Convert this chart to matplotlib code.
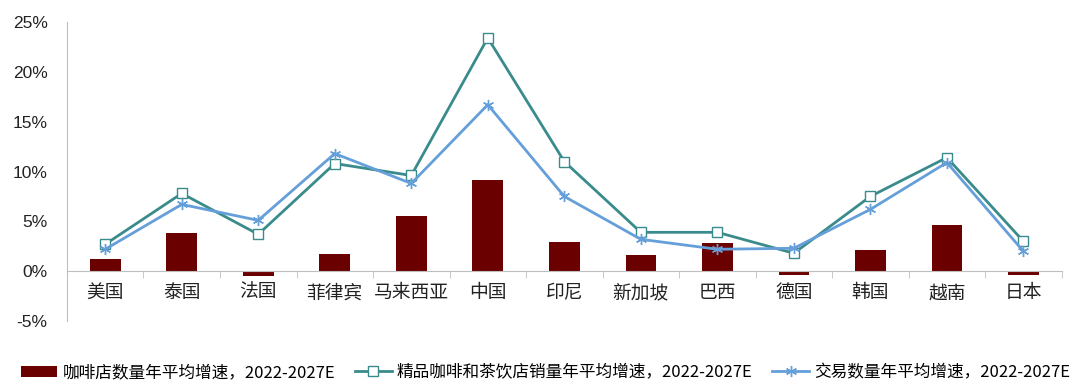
import matplotlib
matplotlib.use("Agg")
import matplotlib.pyplot as plt
import numpy as np
from matplotlib.ticker import FixedLocator, FuncFormatter

plt.rcParams['font.family'] = ['Noto Sans CJK SC', 'DejaVu Sans']

categories = ["美国", "泰国", "法国", "菲律宾", "马来西亚", "中国", "印尼",
              "新加坡", "巴西", "德国", "韩国", "越南", "日本"]
store_growth = [1.2, 3.8, -0.5, 1.7, 5.5, 9.1, 2.9, 1.6, 2.8, -0.4, 2.1, 4.6, -0.4]
specialty_sales_growth = [2.7, 7.8, 3.7, 10.8, 9.6, 23.4, 11.0, 3.9, 3.9, 1.8, 7.5, 11.4, 3.0]
transaction_growth = [2.2, 6.7, 5.1, 11.8, 8.8, 16.7, 7.5, 3.2, 2.2, 2.3, 6.2, 10.9, 2.0]
y_ticks = [-5, 0, 5, 10, 15, 20, 25]
series_names = ["咖啡店数量年平均增速，2022-2027E",
                "精品咖啡和茶饮店销量年平均增速，2022-2027E",
                "交易数量年平均增速，2022-2027E"]

bar_color = "#6B0000"
teal = "#3A8B8B"
blue = "#659FDA"

fig = plt.figure(figsize=(10.8, 3.92), dpi=100)
ax = fig.add_axes([0.062, 0.181, 0.921, 0.763])

x = np.arange(len(categories))
h_bar = ax.bar(x, store_growth, width=0.4, color=bar_color, label=series_names[0], zorder=2)
h_teal, = ax.plot(x, specialty_sales_growth, color=teal, lw=2.0, marker='s', markersize=6.5,
                  markerfacecolor='white', markeredgecolor=teal, markeredgewidth=1.0,
                  label=series_names[1], zorder=3)
h_blue, = ax.plot(x, transaction_growth, color=blue, lw=2.0, marker=(6, 2, 0), markersize=8,
                  markeredgecolor=blue, markeredgewidth=1.0, label=series_names[2], zorder=4)

ax.set_xlim(-0.5, len(categories) - 0.5)
ax.set_ylim(-5, 25)
ax.set_yticks(y_ticks)
ax.yaxis.set_major_formatter(FuncFormatter(lambda v, p: f"{v:.0f}%"))
ax.tick_params(axis='y', length=0, pad=14, labelsize=12.5, labelcolor='#222222')

ax.set_xticks(x)
ax.set_xticklabels(categories)
ax.xaxis.set_minor_locator(FixedLocator(np.arange(len(categories) + 1) - 0.5))
ax.tick_params(axis='x', which='major', length=0, pad=8, labelsize=13.5, labelcolor='#222222')
ax.tick_params(axis='x', which='minor', length=5, color='#BFBFBF', direction='out')

for s in ['top', 'right']:
    ax.spines[s].set_visible(False)
ax.spines['bottom'].set_position(('data', 0))
ax.spines['bottom'].set_color('#BFBFBF')
ax.spines['left'].set_color('#BFBFBF')

fig.canvas.draw()
for lab in ax.get_yticklabels():
    lab.set_family(['Liberation Sans', 'DejaVu Sans'])

leg = fig.legend([h_bar, h_teal, h_blue], series_names, loc='center',
                 bbox_to_anchor=(0.505, 0.049), ncol=3, frameon=False,
                 fontsize=12, handlelength=2.2, handletextpad=0.3, columnspacing=1.2)

fig.savefig("out.png", dpi=100)
